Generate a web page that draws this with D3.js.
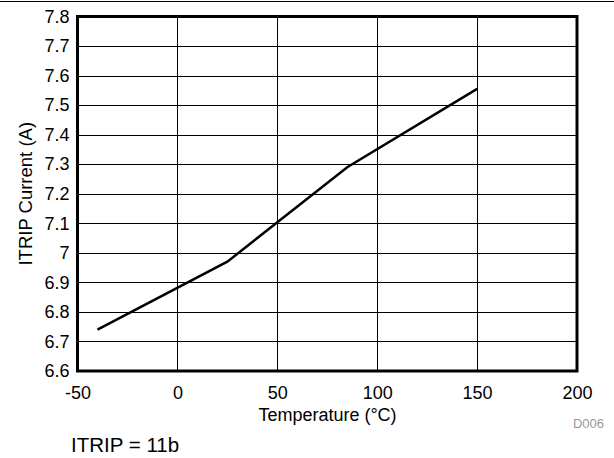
<!DOCTYPE html>
<html>
<head>
<meta charset="utf-8">
<script src="https://cdn.jsdelivr.net/npm/d3@7"></script>
<style>
  body { margin: 0; background: #fff; }
  svg { display: block; font-family: "Liberation Sans", Arial, sans-serif; }
  .grid line { stroke: #000; stroke-width: 1; shape-rendering: crispEdges; }
</style>
</head>
<body>
<svg width="614" height="458"></svg>
<script>
// temperature (°C) vs ITRIP current (A)
const temps = [-40, 25, 85, 150];
const current = [6.74, 6.97, 7.29, 7.555];
const xTicks = [-50, 0, 50, 100, 150, 200];
const yTicks = [6.6, 6.7, 6.8, 6.9, 7, 7.1, 7.2, 7.3, 7.4, 7.5, 7.6, 7.7, 7.8];

const svg = d3.select('svg');
const plotL = 77.5, plotR = 577, plotT = 16.5, plotB = 371;
const font = '"Liberation Sans", Arial, sans-serif';

const x = d3.scaleLinear().domain([-50, 200]).range([plotL, plotR]);
const y = d3.scaleLinear().domain([6.6, 7.8]).range([plotB, plotT]);

// line across the top of the page
svg.append('line')
  .attr('x1', 0).attr('x2', 614).attr('y1', 1.5).attr('y2', 1.5)
  .attr('stroke', '#000').attr('stroke-width', 1.2);

// grid
svg.append('g').attr('class', 'grid')
  .selectAll('line').data(yTicks).enter().append('line')
  .attr('x1', plotL).attr('x2', plotR)
  .attr('y1', d => Math.round(y(d)) + 0.5).attr('y2', d => Math.round(y(d)) + 0.5);
svg.append('g').attr('class', 'grid')
  .selectAll('line').data(xTicks).enter().append('line')
  .attr('y1', plotT).attr('y2', plotB)
  .attr('x1', d => Math.round(x(d)) + 0.5).attr('x2', d => Math.round(x(d)) + 0.5);

// axes (labels only), plain hyphen for negatives
const yAxis = svg.append('g')
  .attr('transform', `translate(${plotL},0)`)
  .call(d3.axisLeft(y).tickValues(yTicks).tickSize(0).tickPadding(8).tickFormat(d => String(d)));
yAxis.select('.domain').remove();

const xAxis = svg.append('g')
  .attr('transform', `translate(0,${plotB})`)
  .call(d3.axisBottom(x).tickValues(xTicks).tickSize(0).tickPadding(0).tickFormat(d => String(d)));
xAxis.select('.domain').remove();
xAxis.selectAll('.tick text').attr('dy', null).attr('y', 28);

svg.selectAll('.tick text')
  .attr('font-family', font)
  .attr('font-size', 18)
  .attr('fill', '#000');

// frame
svg.append('rect')
  .attr('x', plotL).attr('y', plotT)
  .attr('width', plotR - plotL).attr('height', plotB - plotT)
  .attr('fill', 'none').attr('stroke', '#000').attr('stroke-width', 3);

// data line
const line = d3.line().x((d, i) => x(temps[i])).y(d => y(d));
svg.append('path')
  .datum(current)
  .attr('d', line)
  .attr('fill', 'none')
  .attr('stroke', '#000')
  .attr('stroke-width', 2.5);

// titles
svg.append('text')
  .attr('x', 327.5).attr('y', 421)
  .attr('text-anchor', 'middle')
  .attr('font-size', 18)
  .text('Temperature (°C)');

svg.append('text')
  .attr('transform', `translate(32,${(plotT + plotB) / 2}) rotate(-90)`)
  .attr('text-anchor', 'middle')
  .attr('font-size', 18.5)
  .text('ITRIP Current (A)');

svg.append('text')
  .attr('x', 604).attr('y', 428)
  .attr('text-anchor', 'end')
  .attr('font-size', 13)
  .attr('fill', '#999')
  .text('D006');

svg.append('text')
  .attr('x', 71).attr('y', 451.5)
  .attr('font-size', 20.5)
  .text('ITRIP = 11b');
</script>
</body>
</html>
